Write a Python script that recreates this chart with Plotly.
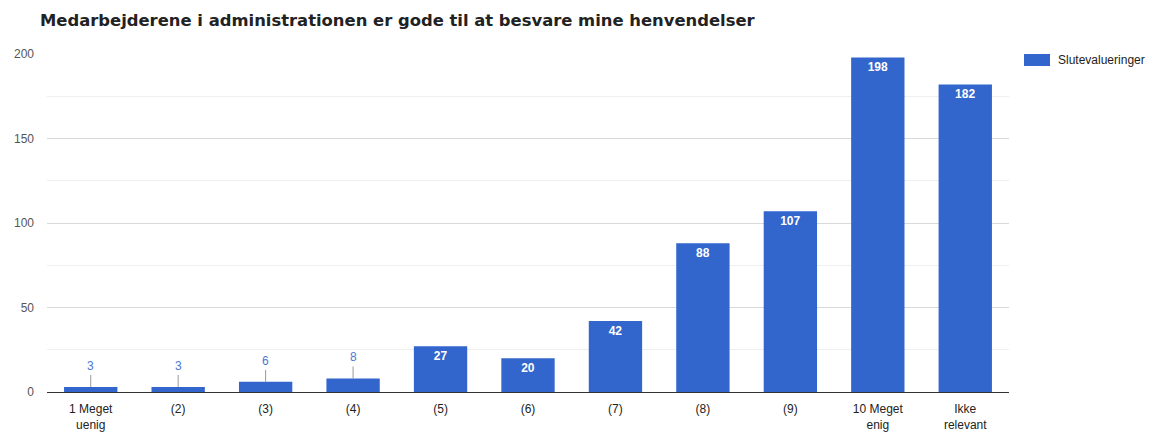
import plotly.graph_objects as go

categories = ["1 Meget<br>uenig", "(2)", "(3)", "(4)", "(5)", "(6)", "(7)", "(8)", "(9)", "10 Meget<br>enig", "Ikke<br>relevant"]
values = [3, 3, 6, 8, 27, 20, 42, 88, 107, 198, 182]
series_name = "Slutevalueringer"
inside_threshold = 15

bar_color = "#3366cc"

W, H = 1158, 434
L, R, T, B = 47, 149, 54, 42
PW, PH = W - L - R, H - T - B

inside_text = [f"<b>{v}</b>" if v >= inside_threshold else "" for v in values]

fig = go.Figure()
fig.add_trace(go.Bar(
    x=categories, y=values, name=series_name, showlegend=False,
    marker=dict(color=bar_color, line=dict(width=0)),
    text=inside_text, textposition="inside", insidetextanchor="end",
    textfont=dict(color="white", size=12, family="Arial, Liberation Sans"),
    textangle=0, cliponaxis=False,
))

annotations = []
for c, v in zip(categories, values):
    if v < inside_threshold:
        annotations.append(dict(
            x=c, y=v, xref="x", yref="y", text=str(v),
            showarrow=True, arrowhead=0, arrowwidth=1, arrowcolor="#999999",
            ax=0, ay=-12, yanchor="bottom",
            font=dict(color="#4a78d4", size=12, family="Arial, Liberation Sans"),
        ))

# custom legend (Google-charts style wide swatch)
lx0 = 1 + 15 / PW
lx1 = 1 + 41 / PW
lyc = 1 - 6 / PH
annotations.append(dict(
    x=1 + 47 / PW, y=lyc, xref="paper", yref="paper", text=series_name,
    showarrow=False, xanchor="left", yanchor="middle",
    font=dict(color="#222222", size=12, family="Arial, Liberation Sans"),
))
shapes = [dict(type="rect", xref="paper", yref="paper", x0=lx0, x1=lx1,
               y0=lyc - 6 / PH, y1=lyc + 6 / PH, fillcolor=bar_color, line=dict(width=0))]

fig.update_layout(
    width=W, height=H,
    margin=dict(l=L, r=R, t=T, b=B),
    paper_bgcolor="white", plot_bgcolor="white",
    bargap=0.39,
    title=dict(text="<b>Medarbejderene i administrationen er gode til at besvare mine henvendelser</b>",
               x=40 / W, xref="container", xanchor="left", y=1 - 20 / H, yref="container", yanchor="middle",
               font=dict(family="DejaVu Sans", size=16.4, color="#222222")),
    font=dict(family="Arial, Liberation Sans", size=12, color="#444444"),
    showlegend=False,
    annotations=annotations,
    shapes=shapes,
    yaxis=dict(range=[0, 200], tickvals=[0, 50, 100, 150, 200], gridcolor="#d9d9d9", zeroline=True,
               zerolinecolor="#333333", zerolinewidth=1, ticks="", tickfont=dict(color="#555555"),
               minor=dict(tickvals=[25, 75, 125, 175], showgrid=True, gridcolor="#efefef"),
               ticklabelstandoff=12, fixedrange=True, automargin=False),
    xaxis=dict(tickfont=dict(color="#222222"), ticks="", showline=False, automargin=False,
               ticklabelstandoff=8),
)

fig.write_html("out.html", config={"displayModeBar": False},
               post_script="document.body.style.margin='0';document.body.style.overflow='hidden';")
